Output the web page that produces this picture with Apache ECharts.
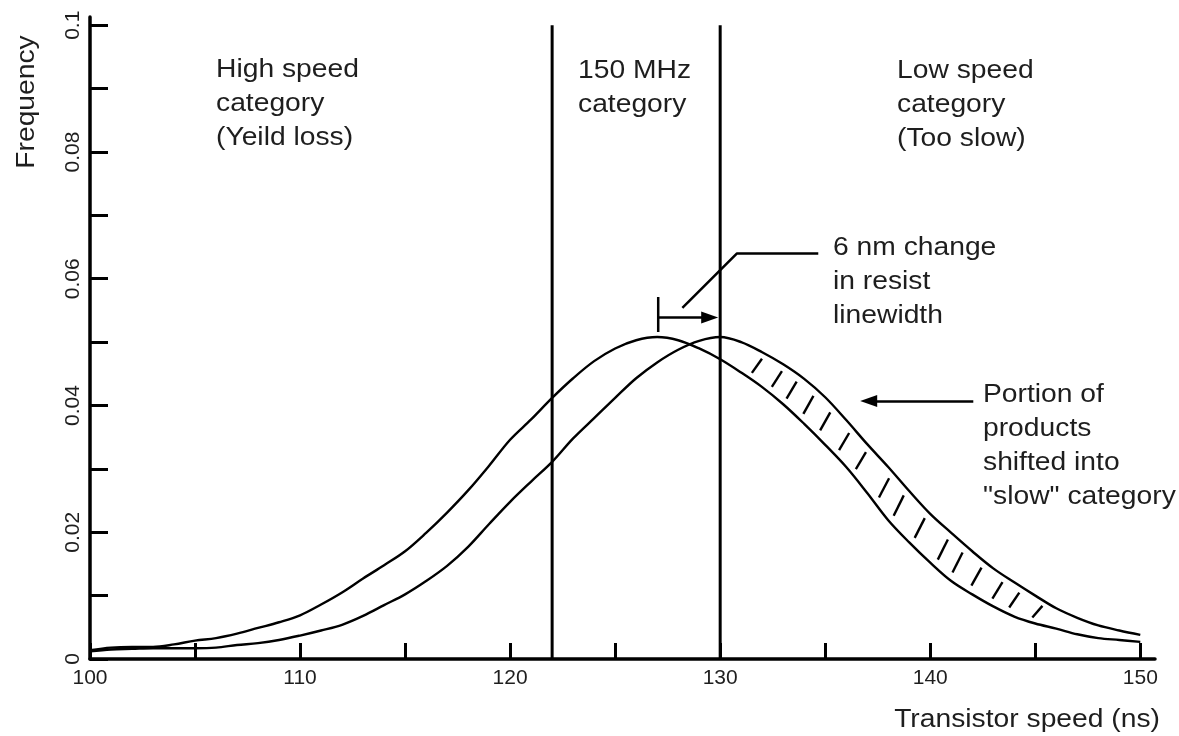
<!DOCTYPE html>
<html><head><meta charset="utf-8">
<script src="https://cdn.jsdelivr.net/npm/echarts@6/dist/echarts.min.js"></script>
<style>html,body{margin:0;padding:0;background:#fff;} #c{width:1179px;height:736px;}</style>
</head><body><div id="c"></div>
<script>
// ---- data ----
const speeds = [100,101,102,103,104,105,106,107,108,109,110,111,112,113,114,115,116,117,118,119,120,121,122,123,124,125,126,127,128,129,130,131,132,133,134,135,136,137,138,139,140,141,142,143,144,145,146,147,148,149,150];
const freqBefore = [0.0014,0.0018,0.0019,0.0019,0.0023,0.0029,0.0033,0.0040,0.0049,0.0058,0.0069,0.0086,0.0105,0.0127,0.0148,0.0170,0.0199,0.0231,0.0266,0.0305,0.0346,0.0378,0.0412,0.0443,0.0470,0.0490,0.0503,0.0508,0.0503,0.0490,0.0473,0.0452,0.0429,0.0402,0.0371,0.0338,0.0303,0.0262,0.0219,0.0184,0.0152,0.0123,0.0102,0.0083,0.0067,0.0056,0.0048,0.0039,0.0033,0.0030,0.0027];
const freqAfter = [0.0012,0.0015,0.0016,0.0017,0.0017,0.0017,0.0018,0.0022,0.0025,0.0030,0.0037,0.0045,0.0054,0.0068,0.0085,0.0102,0.0123,0.0147,0.0177,0.0213,0.0248,0.0280,0.0311,0.0348,0.0380,0.0412,0.0443,0.0468,0.0488,0.0502,0.0508,0.0500,0.0484,0.0465,0.0442,0.0413,0.0377,0.0339,0.0303,0.0265,0.0229,0.0199,0.0170,0.0143,0.0121,0.0100,0.0080,0.0065,0.0053,0.0045,0.0038];
const xTickValues = [100,105,110,115,120,125,130,135,140,145,150];
const xLabelValues = [100,110,120,130,140,150];
const yTickValues = [0,0.01,0.02,0.03,0.04,0.05,0.06,0.07,0.08,0.09,0.1];
const yLabelValues = [0,0.02,0.04,0.06,0.08,0.1];
const categoryLimits = [122, 130];
const categoryTop = 0.1;
const hatchX = [131.75,132.7,133.4,134.2,135.0,135.9,136.7,137.8,138.5,139.5,140.6,141.3,142.2,143.2,144.0,145.1];
const shiftBar = [[127.05,0.0516],[127.05,0.0571]];
// arrow: [tail, arrowhead centre]
const shiftArrow = [[127.05,0.0539],[129.5,0.0539]];
const shiftLeader = [[134.67,0.0640],[130.8,0.0640],[128.2,0.0554]];
const portionArrow = [[142.05,0.0407],[137.07,0.0407]];

function interp(xs, ys, x) {
  if (x <= xs[0]) return ys[0];
  for (let i = 1; i < xs.length; i++) {
    if (x <= xs[i]) {
      const t = (x - xs[i-1]) / (xs[i] - xs[i-1]);
      return ys[i-1] + t * (ys[i] - ys[i-1]);
    }
  }
  return ys[ys.length - 1];
}

const FONT = 'Liberation Sans, Arial, sans-serif';
const TXT = '#1e1e1e';
const chart = echarts.init(document.getElementById('c'), null, {renderer: 'canvas'});

function pair(xs, ys) { return xs.map((x, i) => [x, ys[i]]); }
const blackLine = (w) => ({color: '#000', width: w, type: 'solid'});

function arrowSeries(pts) {
  return {
    type: 'line', data: [], silent: true, z: 5,
    markLine: {
      silent: true, animation: false,
      symbol: ['none', 'triangle'], symbolSize: [12, 17],
      label: {show: false},
      lineStyle: blackLine(2.5),
      emphasis: {disabled: true},
      data: [[{coord: pts[0]}, {coord: pts[1]}]]
    }
  };
}

const textBlock = (x, y, text, extra) => Object.assign({
  type: 'text', x: x, y: y, scaleX: 1.13, silent: true,
  style: {text: text, fontFamily: FONT, fontSize: 25, lineHeight: 34, fill: TXT, verticalAlign: 'top', align: 'left'}
}, extra || {});

const option = {
  animation: false,
  backgroundColor: '#fff',
  grid: {left: 90, right: 24, top: 17, bottom: 77, containLabel: false},
  xAxis: {
    type: 'value', min: 100, max: 150.7,
    splitLine: {show: false},
    axisLine: {show: true, onZero: false, lineStyle: {color: '#000', width: 3.5}},
    axisTick: {show: true, inside: true, length: 16, customValues: xTickValues, lineStyle: {color: '#000', width: 3}},
    axisLabel: {show: true, customValues: xLabelValues, margin: 9, fontFamily: FONT, fontSize: 21, color: TXT}
  },
  yAxis: {
    type: 'value', min: 0, max: 0.1013,
    splitLine: {show: false},
    axisLine: {show: true, onZero: false, lineStyle: {color: '#000', width: 3.5}},
    axisTick: {show: true, inside: true, length: 18, customValues: yTickValues, lineStyle: {color: '#000', width: 3}},
    axisLabel: {show: true, customValues: yLabelValues, rotate: 90, margin: 6, fontFamily: FONT, fontSize: 21, color: TXT}
  },
  graphic: [
    {type: 'text', x: 27, y: 102, rotation: Math.PI / 2, scaleX: 1.13, silent: true,
     style: {text: 'Frequency', fontFamily: FONT, fontSize: 25, fill: TXT, align: 'center', verticalAlign: 'middle'}},
    textBlock(1160, 703, 'Transistor speed (ns)', {style: {text: 'Transistor speed (ns)', fontFamily: FONT, fontSize: 25, lineHeight: 34, fill: TXT, verticalAlign: 'top', align: 'right'}}),
    textBlock(216, 53, 'High speed\ncategory\n(Yeild loss)'),
    textBlock(578, 54, '150 MHz\ncategory'),
    textBlock(897, 54, 'Low speed\ncategory\n(Too slow)'),
    textBlock(833, 231, '6 nm change\nin resist\nlinewidth'),
    textBlock(983, 378, 'Portion of\nproducts\nshifted into\n"slow" category')
  ],
  series: [
    {name: 'Before', type: 'line', data: pair(speeds, freqBefore), smooth: 0.35, symbol: 'none', lineStyle: blackLine(2.4), silent: true, z: 3},
    {name: 'After', type: 'line', data: pair(speeds, freqAfter), smooth: 0.35, symbol: 'none', lineStyle: blackLine(2.4), silent: true, z: 3},
    {type: 'line', data: [[categoryLimits[0], 0], [categoryLimits[0], categoryTop]], symbol: 'none', lineStyle: blackLine(3), silent: true, z: 4},
    {type: 'line', data: [[categoryLimits[1], 0], [categoryLimits[1], categoryTop]], symbol: 'none', lineStyle: blackLine(3), silent: true, z: 4},
    {type: 'line', data: shiftBar, symbol: 'none', lineStyle: blackLine(2.5), silent: true, z: 5},
    {type: 'line', data: shiftLeader, symbol: 'none', lineStyle: blackLine(2.5), silent: true, z: 5},
    arrowSeries(shiftArrow),
    arrowSeries(portionArrow),
    {
      type: 'custom', silent: true, z: 4,
      data: hatchX.map(x => [x, 0]),
      encode: {x: 0, y: 1},
      renderItem: function (params, api) {
        const xc = api.value(0);
        const d = 0.4;
        const pLow = api.coord([xc - d, interp(speeds, freqBefore, xc - d)]);
        const pUp = api.coord([xc + d, interp(speeds, freqAfter, xc + d)]);
        const t0 = 0.2, t1 = 0.8;
        return {
          type: 'line',
          shape: {
            x1: pLow[0] + (pUp[0] - pLow[0]) * t0, y1: pLow[1] + (pUp[1] - pLow[1]) * t0,
            x2: pLow[0] + (pUp[0] - pLow[0]) * t1, y2: pLow[1] + (pUp[1] - pLow[1]) * t1
          },
          style: {stroke: '#000', lineWidth: 2.4}
        };
      }
    }
  ]
};
chart.setOption(option);
</script>
</body></html>
